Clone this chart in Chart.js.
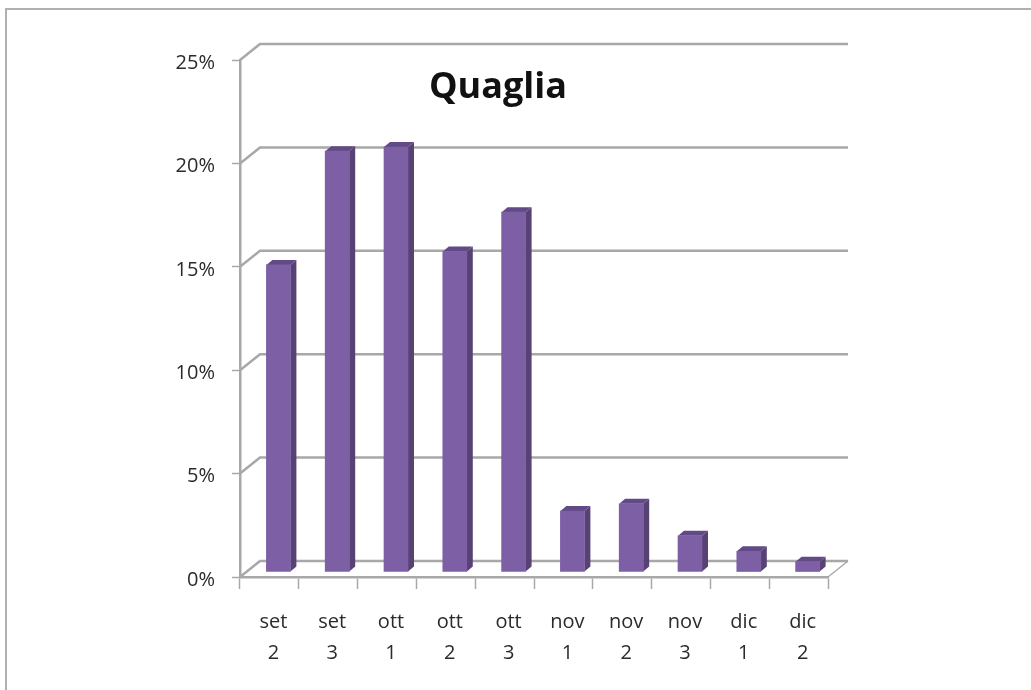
<!DOCTYPE html>
<html>
<head>
<meta charset="utf-8">
<style>
  html, body { margin: 0; padding: 0; background: #fff; }
  #frame { position: absolute; left: 5px; top: 8px; width: 1026px; height: 682px; border: solid #b0b0b0; border-width: 2px 0 0 2px; box-sizing: border-box; }
  #myChart { position: absolute; left: 0; top: 0; }
</style>
<script src="https://cdn.jsdelivr.net/npm/chart.js@4/dist/chart.umd.min.js"></script>
</head>
<body>
<div id="frame"></div>
<canvas id="myChart" width="1031" height="690"></canvas>
<script>
const chartTitle = "Quaglia";
const categories = [["set", "2"], ["set", "3"], ["ott", "1"], ["ott", "2"], ["ott", "3"], ["nov", "1"], ["nov", "2"], ["nov", "3"], ["dic", "1"], ["dic", "2"]];
const values = [14.85, 20.35, 20.55, 15.5, 17.4, 2.95, 3.3, 1.75, 1.0, 0.5];
const yTicks = [0, 5, 10, 15, 20, 25];

const gridColor = "#a8a8a8";
const textColor = "#2b2b2b";
const wallDx = 20, wallDy = -16;   // back wall offset
const barDx = 9, barDy = -5;       // bar sits inside the floor
const sideDx = 6, sideDy = -5;     // depth of the bars

// back wall lines, floor and title
const wallPlugin = {
    id: "wall",
    beforeDatasetsDraw(chart) {
        const { ctx, scales: { x, y } } = chart;
        ctx.save();
        ctx.strokeStyle = gridColor;
        ctx.lineWidth = 2.5;
        yTicks.forEach(v => {
            const py = y.getPixelForValue(v);
            ctx.beginPath();
            ctx.moveTo(x.left, py);
            ctx.lineTo(x.left + wallDx, py + wallDy);
            ctx.lineTo(x.right + wallDx, py + wallDy);
            ctx.stroke();
        });
        const py0 = y.getPixelForValue(0);
        ctx.lineWidth = 1.5;
        ctx.beginPath();
        ctx.moveTo(x.right, py0);
        ctx.lineTo(x.right + wallDx, py0 + wallDy);
        ctx.stroke();
        ctx.restore();
    },
    afterDraw(chart) {
        const { ctx } = chart;
        ctx.save();
        ctx.font = "bold 36px 'Open Sans', 'Noto Sans', sans-serif";
        ctx.fillStyle = "#111";
        ctx.textAlign = "center";
        ctx.textBaseline = "middle";
        ctx.fillText(chartTitle, 498, 88);
        ctx.restore();
    }
};

// side and top faces of the columns
const columnPlugin = {
    id: "column3d",
    beforeDatasetDraw(chart, args) {
        const { ctx } = chart;
        ctx.save();
        ctx.translate(barDx, barDy);
        args.meta.data.forEach(bar => {
            const left = bar.x - bar.width / 2, right = bar.x + bar.width / 2;
            ctx.fillStyle = "#574274";
            ctx.beginPath();
            ctx.moveTo(right, bar.base);
            ctx.lineTo(right + sideDx, bar.base + sideDy);
            ctx.lineTo(right + sideDx, bar.y + sideDy);
            ctx.lineTo(right, bar.y);
            ctx.closePath();
            ctx.fill();
            ctx.fillStyle = "#614a86";
            ctx.beginPath();
            ctx.moveTo(left, bar.y);
            ctx.lineTo(left + sideDx, bar.y + sideDy);
            ctx.lineTo(right + sideDx, bar.y + sideDy);
            ctx.lineTo(right, bar.y);
            ctx.closePath();
            ctx.fill();
        });
    },
    afterDatasetDraw(chart) {
        chart.ctx.restore();
    }
};

new Chart("myChart", {
    type: "bar",
    plugins: [wallPlugin, columnPlugin],
    data: {
        labels: categories,
        datasets: [{
            data: values,
            backgroundColor: "#7d5fa6",
            barThickness: 24,
            clip: false
        }]
    },
    options: {
        responsive: false,
        animation: false,
        layout: { padding: { left: 0, top: 60, right: 203, bottom: 0 } },
        plugins: { legend: { display: false }, tooltip: { enabled: false } },
        scales: {
            x: {
                afterFit(scale) { scale.height = 113; },
                grid: { offset: true, drawOnChartArea: false, color: gridColor, tickLength: 12, tickWidth: 1.5 },
                border: { color: gridColor, width: 2.5 },
                ticks: {
                    color: textColor,
                    font: { family: "'Open Sans', 'Noto Sans', sans-serif", size: 20, lineHeight: 1.55 },
                    padding: 18,
                    labelOffset: 4,
                    maxRotation: 0,
                    autoSkip: false
                }
            },
            y: {
                min: 0,
                max: 25,
                afterFit(scale) { scale.width = 240; },
                grid: { drawOnChartArea: false, color: gridColor, tickLength: 8, tickWidth: 1.5 },
                border: { color: gridColor, width: 2.5 },
                ticks: {
                    stepSize: 5,
                    color: textColor,
                    font: { family: "'Open Sans', 'Noto Sans', sans-serif", size: 20 },
                    padding: 17,
                    labelOffset: 3,
                    callback: v => v + "%"
                }
            }
        }
    }
});
</script>
</body>
</html>
